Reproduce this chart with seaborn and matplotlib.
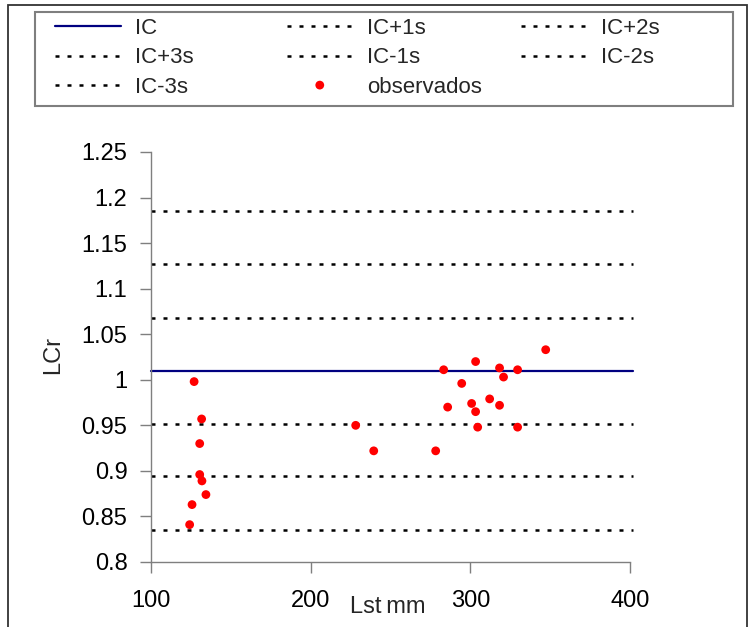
import matplotlib
matplotlib.use("Agg")
import matplotlib.pyplot as plt
import seaborn as sns
import pandas as pd
from matplotlib.patches import Rectangle

# ---- data ----
lst_mm = [127.0, 131.7, 130.5, 130.5, 131.9, 134.4, 125.7, 124.2,
          228.2, 239.5, 278.3, 283.3, 285.8, 294.6, 300.8, 303.3,
          303.3, 304.6, 312.1, 318.3, 318.3, 320.8, 329.6, 329.6, 347.2]
lcr = [0.998, 0.957, 0.930, 0.896, 0.889, 0.874, 0.863, 0.841,
       0.950, 0.922, 0.922, 1.011, 0.970, 0.996, 0.974, 1.020,
       0.965, 0.948, 0.979, 1.013, 0.972, 1.003, 1.011, 0.948, 1.033]

ic_labels = ["IC", "IC+1s", "IC+2s", "IC+3s", "IC-1s", "IC-2s", "IC-3s"]
ic_levels = [1.010, 1.068, 1.127, 1.185, 0.952, 0.894, 0.835]

x_ticks = [100, 200, 300, 400]
y_ticks = [0.8, 0.85, 0.9, 0.95, 1.0, 1.05, 1.1, 1.15, 1.2, 1.25]
y_tick_labels = ["0.8", "0.85", "0.9", "0.95", "1", "1.05", "1.1", "1.15", "1.2", "1.25"]
point_label = "observados"

# ---- style ----
sns.set_style("white")
plt.rcParams["font.family"] = ["Liberation Sans", "DejaVu Sans"]

W, H = 750, 627
fig = plt.figure(figsize=(W / 100, H / 100), dpi=100)
ax = fig.add_axes([151 / W, 1 - 562 / H, 479 / W, 410 / H])

df = pd.DataFrame({"Lst": lst_mm, "LCr": lcr})

line_handles = {}
for lab, lev in zip(ic_labels, ic_levels):
    if lab == "IC":
        h = ax.axhline(lev, xmin=0, xmax=1.006, color="#000080", lw=1.6,
                       clip_on=False, label=lab, zorder=2)
    else:
        h = ax.axhline(lev, xmin=0, xmax=1.006, color="black", lw=1.8,
                       linestyle=(0, (1.6, 3.2)), clip_on=False, label=lab, zorder=2)
    line_handles[lab] = h

sns.scatterplot(data=df, x="Lst", y="LCr", ax=ax, color="red", s=40,
                edgecolor="none", linewidth=0, label=point_label, legend=False,
                zorder=3)
pt_handle = ax.collections[-1]

ax.set_xlim(100, 400)
ax.set_ylim(0.8, 1.25)
ax.set_xticks(x_ticks)
ax.set_xticklabels([str(t) for t in x_ticks])
ax.set_yticks(y_ticks)
ax.set_yticklabels(y_tick_labels)

for s in ["top", "right"]:
    ax.spines[s].set_visible(False)
for s in ["left", "bottom"]:
    ax.spines[s].set_color("#7f7f7f")
    ax.spines[s].set_linewidth(1.0)

ax.tick_params(axis="y", left=True, direction="out", length=8, width=1,
               color="#7f7f7f", pad=9, labelsize=17, labelcolor="black")
ax.tick_params(axis="x", bottom=True, direction="out", length=8, width=1,
               color="#7f7f7f", pad=12.5, labelsize=17, labelcolor="black")

ax.set_xlabel("Lst\u2009mm", fontsize=17)
ax.xaxis.set_label_coords(0.495, -0.082)
ax.set_ylabel("LCr", fontsize=17)
ax.yaxis.set_label_coords(-0.182, 0.505)

# ---- legend (three columns, row-major order as in the reference) ----
cols = [
    (["IC", "IC+3s", "IC-3s"], 55),
    (["IC+1s", "IC-1s", point_label], 287),
    (["IC+2s", "IC-2s"], 521),
]
for labs, xpx in cols:
    hs = [pt_handle if l == point_label else line_handles[l] for l in labs]
    fig.legend(hs, labs, loc="upper left",
               bbox_to_anchor=(xpx / W, 1 - 18 / H),
               bbox_transform=fig.transFigure,
               frameon=False, fontsize=16, borderpad=0, borderaxespad=0,
               handlelength=2.95, handletextpad=0.65, labelspacing=0.38,
               scatterpoints=1, scatteryoffsets=[0.5])

fig.add_artist(Rectangle((35 / W, 1 - 106 / H), (733 - 35) / W, (106 - 12) / H,
                         transform=fig.transFigure, fill=False,
                         ec="#7f7f7f", lw=1.5))
fig.add_artist(Rectangle((8 / W, -0.05), (747 - 8) / W, 1 - 5 / H + 0.05,
                         transform=fig.transFigure, fill=False,
                         ec="#333333", lw=1.3, clip_on=False))

fig.savefig("out.png", dpi=100)
